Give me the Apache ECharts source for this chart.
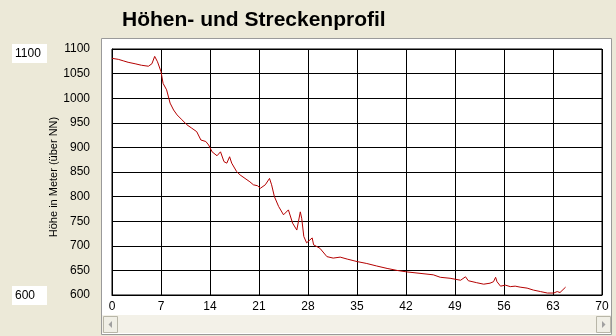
<!DOCTYPE html>
<html>
<head>
<meta charset="utf-8">
<script src="https://cdn.jsdelivr.net/npm/echarts@6/dist/echarts.min.js"></script>
<style>
html,body{margin:0;padding:0;background:#ECE9D8;}
#c{width:616px;height:336px;}
</style>
</head>
<body>
<div id="c"></div>
<script>
var titleText = 'Höhen- und Streckenprofil';
var yAxisName = 'Höhe in Meter (über NN)';
var maxBoxLabel = '1100';
var minBoxLabel = '600';
var xTicks = [0, 7, 14, 21, 28, 35, 42, 49, 56, 63, 70];
var yTicks = [600, 650, 700, 750, 800, 850, 900, 950, 1000, 1050, 1100];
var km = [0, 0.9, 1.6, 2.3, 3.3, 4.2, 5.2, 5.7, 6.1, 6.5, 6.7, 7.0, 7.3, 7.8, 8.3, 8.8, 9.3, 10.0, 10.7, 11.4, 12.1, 12.7, 13.4, 13.8, 14.3, 15.0, 15.5, 16.0, 16.4, 16.8, 17.1, 17.8, 18.3, 19.0, 19.7, 20.2, 20.8, 21.2, 21.9, 22.5, 22.8, 23.2, 23.8, 24.5, 25.2, 25.8, 26.4, 26.9, 27.1, 27.4, 27.8, 28.6, 28.8, 29.7, 30.7, 31.6, 32.6, 33.6, 35.0, 36.4, 37.8, 39.3, 40.7, 42.1, 44.0, 45.9, 46.9, 48.3, 49.8, 50.5, 50.9, 52.1, 53.1, 54.0, 54.5, 54.8, 55.0, 55.5, 56.2, 56.9, 57.6, 58.3, 59.3, 60.2, 61.2, 62.2, 63.1, 63.6, 64.0, 64.8];
var elev = [1081, 1079, 1076, 1073, 1070, 1067, 1065, 1070, 1085, 1074, 1078, 1054, 1030, 1017, 990, 976, 966, 956, 946, 939, 932, 915, 912, 905, 891, 883, 891, 871, 868, 881, 868, 851, 844, 837, 830, 824, 822, 817, 824, 837, 824, 800, 780, 763, 773, 746, 732, 769, 756, 719, 706, 716, 702, 695, 678, 675, 677, 673, 668, 664, 659, 654, 650, 647, 644, 641, 636, 634, 630, 637, 629, 625, 622, 624, 627, 636, 627, 618, 620, 617, 618, 616, 614, 610, 607, 604, 604, 607, 605, 616];

var pts = km.map(function (k, i) { return [k, elev[i]]; });
var chart = echarts.init(document.getElementById('c'), null, {renderer: 'canvas'});
var font = 'Liberation Sans, Arial, sans-serif';
chart.setOption({
  animation: false,
  backgroundColor: '#ECE9D8',
  graphic: [
    {type: 'rect', z: -10, shape: {x: 101.5, y: 38.5, width: 510, height: 296}, style: {fill: '#FFFFFF', stroke: '#9A9A9A', lineWidth: 1}},
    {type: 'rect', z: -9, shape: {x: 102, y: 315, width: 509, height: 18}, style: {fill: '#F3F1E8', stroke: null}},
    {type: 'rect', z: -8, shape: {x: 103.5, y: 316.5, width: 14, height: 16}, style: {fill: '#F0EFE6', stroke: '#B8B6A8', lineWidth: 1}},
    {type: 'rect', z: -8, shape: {x: 596.5, y: 316.5, width: 14, height: 16}, style: {fill: '#F0EFE6', stroke: '#B8B6A8', lineWidth: 1}},
    {type: 'polygon', z: -7, shape: {points: [[112, 321], [112, 328], [108.5, 324.5]]}, style: {fill: '#A0A0A0'}},
    {type: 'polygon', z: -7, shape: {points: [[602, 321], [602, 328], [605.5, 324.5]]}, style: {fill: '#A0A0A0'}},
    {type: 'rect', shape: {x: 12, y: 44, width: 35, height: 19}, style: {fill: '#FFFFFF'}},
    {type: 'text', x: 15, y: 53.5, style: {text: maxBoxLabel, font: '12px ' + font, fill: '#000', verticalAlign: 'middle'}},
    {type: 'rect', shape: {x: 12, y: 286, width: 35, height: 19}, style: {fill: '#FFFFFF'}},
    {type: 'text', x: 15, y: 295.5, style: {text: minBoxLabel, font: '12px ' + font, fill: '#000', verticalAlign: 'middle'}},
    {type: 'text', x: 54, y: 177, rotation: Math.PI / 2,
      style: {text: yAxisName, font: '11px ' + font, fill: '#000', align: 'center', verticalAlign: 'middle'}}
  ],
  title: {
    text: titleText, left: 117, top: 5,
    textStyle: {fontFamily: font, fontSize: 21, fontWeight: 'bold', color: '#000'}
  },
  grid: {left: 112, top: 49, width: 490, height: 246, show: true, borderColor: '#000', borderWidth: 1, backgroundColor: 'transparent'},
  xAxis: {
    type: 'value', min: 0, max: 70, interval: 7,
    axisLine: {show: true, lineStyle: {color: '#000'}},
    axisTick: {show: false},
    splitLine: {show: true, lineStyle: {color: '#000', width: 1}},
    axisLabel: {margin: 6, color: '#000', fontFamily: font, fontSize: 12,
      formatter: function (v) { return xTicks.indexOf(v) >= 0 ? String(v) : ''; }}
  },
  yAxis: {
    type: 'value', min: 600, max: 1100, interval: 50,
    axisLine: {show: true, lineStyle: {color: '#000'}},
    axisTick: {show: false},
    splitLine: {show: true, lineStyle: {color: '#000', width: 1}},
    axisLabel: {margin: 22, color: '#000', fontFamily: font, fontSize: 12,
      formatter: function (v) { return yTicks.indexOf(v) >= 0 ? String(v) : ''; }}
  },
  series: [{
    type: 'line', data: pts, showSymbol: false, symbol: 'none',
    lineStyle: {color: '#B40000', width: 1}, z: 5
  }]
});
</script>
</body>
</html>
